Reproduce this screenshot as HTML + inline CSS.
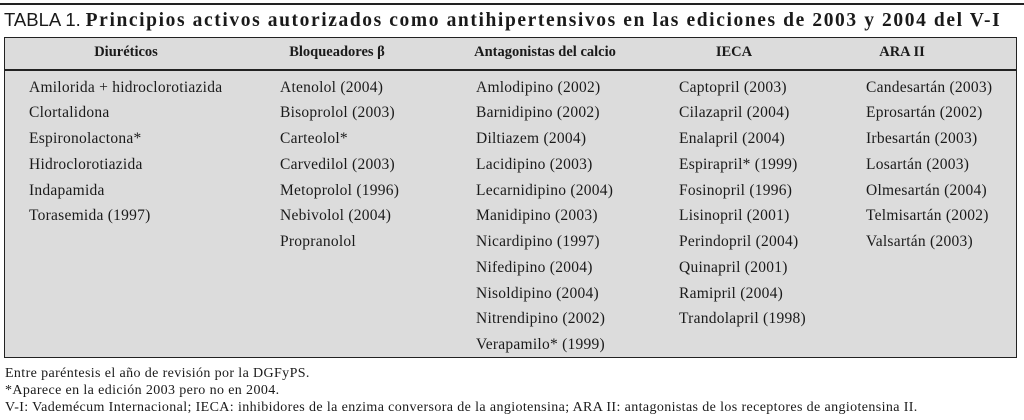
<!DOCTYPE html>
<html><head><meta charset="utf-8"><style>
body{margin:0;width:1024px;height:420px;background:#fff;position:relative;overflow:hidden;font-family:"Liberation Serif",serif;color:#1a1a1a}
.a{position:absolute;white-space:nowrap}
#topline{left:0;top:3px;width:1024px;height:2px;background:#222}
#title{left:4px;top:7px;font-size:19.5px;line-height:26px}
#title .lab{font-family:"Liberation Sans",sans-serif;font-weight:normal;font-size:18.5px}
#title b{font-family:"Liberation Serif",serif;letter-spacing:1.6px}
#box{left:4px;top:37px;width:1011px;height:319px;border:1.5px solid #222;background:#dcdcdc}
#hline{left:4px;top:69px;width:1013px;height:1.5px;background:#222}
.h{font-weight:bold;font-size:14.5px;top:44px;transform:translateX(-50%)}
.c{font-size:15.5px;line-height:25.75px;top:74.5px;letter-spacing:0.25px}
.fn{left:5px;font-size:14px;letter-spacing:0.38px}
</style></head><body>
<div class="a" id="topline"></div>
<div class="a" id="title"><span class="lab">TABLA 1.</span> <b>Principios activos autorizados como antihipertensivos en las ediciones de 2003 y 2004 del V-I</b></div>
<div class="a" id="box"></div>
<div class="a" id="hline"></div>
<div class="a h" style="left:126px">Diuréticos</div>
<div class="a h" style="left:337px">Bloqueadores β</div>
<div class="a h" style="left:545px">Antagonistas del calcio</div>
<div class="a h" style="left:734px">IECA</div>
<div class="a h" style="left:902px">ARA II</div>
<div class="a c" style="left:29px">Amilorida + hidroclorotiazida<br>Clortalidona<br>Espironolactona*<br>Hidroclorotiazida<br>Indapamida<br>Torasemida (1997)</div>
<div class="a c" style="left:280px">Atenolol (2004)<br>Bisoprolol (2003)<br>Carteolol*<br>Carvedilol (2003)<br>Metoprolol (1996)<br>Nebivolol (2004)<br>Propranolol</div>
<div class="a c" style="left:476px">Amlodipino (2002)<br>Barnidipino (2002)<br>Diltiazem (2004)<br>Lacidipino (2003)<br>Lecarnidipino (2004)<br>Manidipino (2003)<br>Nicardipino (1997)<br>Nifedipino (2004)<br>Nisoldipino (2004)<br>Nitrendipino (2002)<br>Verapamilo* (1999)</div>
<div class="a c" style="left:679px">Captopril (2003)<br>Cilazapril (2004)<br>Enalapril (2004)<br>Espirapril* (1999)<br>Fosinopril (1996)<br>Lisinopril (2001)<br>Perindopril (2004)<br>Quinapril (2001)<br>Ramipril (2004)<br>Trandolapril (1998)</div>
<div class="a c" style="left:866px">Candesartán (2003)<br>Eprosartán (2002)<br>Irbesartán (2003)<br>Losartán (2003)<br>Olmesartán (2004)<br>Telmisartán (2002)<br>Valsartán (2003)</div>
<div class="a fn" style="top:366px">Entre paréntesis el año de revisión por la DGFyPS.</div>
<div class="a fn" style="top:383px">*Aparece en la edición 2003 pero no en 2004.</div>
<div class="a fn" style="top:400px">V-I: Vademécum Internacional; IECA: inhibidores de la enzima conversora de la angiotensina; ARA II: antagonistas de los receptores de angiotensina II.</div>
</body></html>
